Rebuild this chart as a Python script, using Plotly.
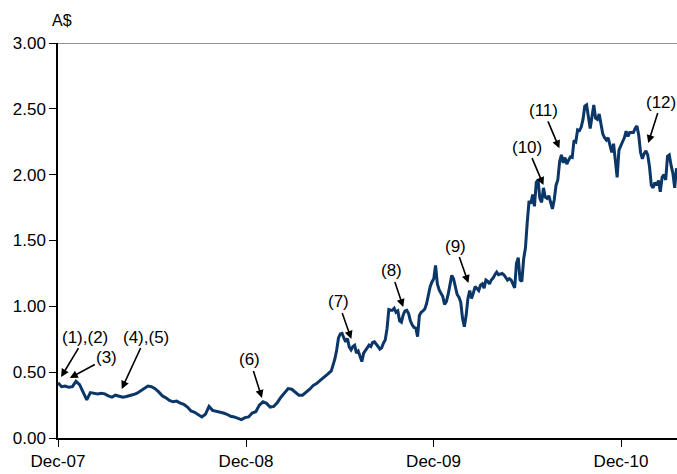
import pandas as pd
import plotly.graph_objects as go

# Closing prices (A$). Part A: weekly from the first week of Dec-2007,
# part B: twice-weekly from late May-2009 to the end of the chart.
start_date = "2007-12-01"
prices_weekly = [
    0.42, 0.39, 0.395, 0.385, 0.39, 0.43, 0.405, 0.35, 0.29, 0.345,
    0.34, 0.335, 0.34, 0.335, 0.32, 0.31, 0.325, 0.32, 0.31, 0.315,
    0.32, 0.33, 0.34, 0.36, 0.38, 0.395, 0.39, 0.375, 0.35, 0.32,
    0.305, 0.285, 0.275, 0.28, 0.265, 0.255, 0.235, 0.205, 0.195, 0.18,
    0.16, 0.18, 0.24, 0.21, 0.205, 0.20, 0.19, 0.18, 0.165, 0.16,
    0.15, 0.14, 0.155, 0.16, 0.19, 0.20, 0.25, 0.275, 0.263, 0.235,
    0.24, 0.27, 0.31, 0.345, 0.375, 0.37, 0.35, 0.325, 0.325, 0.345,
    0.37, 0.40, 0.415, 0.44, 0.46, 0.485, 0.51,
]
prices_twice_weekly = [
    0.60, 0.668, 0.76, 0.79, 0.795, 0.76, 0.73, 0.755, 0.69, 0.67,
    0.695, 0.705, 0.645, 0.66, 0.62, 0.58, 0.645, 0.665, 0.69, 0.705,
    0.695, 0.725, 0.73, 0.715, 0.695, 0.675, 0.685, 0.72, 0.745, 0.83,
    0.975, 0.97, 0.97, 0.985, 0.955, 0.965, 0.89, 0.88, 0.935, 0.965,
    0.97, 0.945, 0.89, 0.86, 0.84, 0.835, 0.77, 0.93, 0.955, 0.965,
    0.98, 1.02, 1.09, 1.15, 1.185, 1.21, 1.31, 1.17, 1.125, 1.095,
    1.075, 1.015, 1.035, 1.09, 1.15, 1.235, 1.21, 1.15, 1.09, 1.07,
    1.03, 0.91, 0.845, 0.93, 1.06, 1.12, 1.06, 1.10, 1.15, 1.135,
    1.12, 1.16, 1.17, 1.137, 1.20, 1.19, 1.17, 1.20, 1.215, 1.24,
    1.26, 1.24, 1.245, 1.25, 1.24, 1.215, 1.20, 1.21, 1.20, 1.17,
    1.14, 1.327, 1.37, 1.20, 1.19, 1.36, 1.445, 1.64, 1.80, 1.78,
    1.85, 1.76, 1.94, 1.96, 1.82, 1.79, 1.90, 1.83, 1.82, 1.84,
    1.78, 1.74, 1.81, 1.92, 1.96, 2.10, 2.15, 2.09, 2.13, 2.08,
    2.11, 2.135, 2.13, 2.26, 2.25, 2.34, 2.335, 2.36, 2.42, 2.52,
    2.53, 2.44, 2.35, 2.44, 2.53, 2.43, 2.42, 2.46, 2.37, 2.31,
    2.28, 2.263, 2.28, 2.22, 2.17, 2.235, 2.10, 1.98, 2.187, 2.225,
    2.25, 2.28, 2.33, 2.29, 2.32, 2.32, 2.32, 2.35, 2.37, 2.30,
    2.17, 2.12, 2.16, 2.18, 2.15, 2.06, 1.92, 1.90, 1.94, 1.92,
    1.955, 1.87, 1.98, 2.00, 1.96, 2.14, 2.15, 2.07, 2.01, 1.90,
    2.05,
]
dates_weekly = pd.date_range(start_date, periods=len(prices_weekly), freq="7D")
dates_twice = pd.date_range(dates_weekly[-1] + pd.Timedelta(days=7),
                            periods=len(prices_twice_weekly), freq="84h")
dates = list(dates_weekly) + list(dates_twice)
prices = prices_weekly + prices_twice_weekly

# Event annotations: label, date, price pointed at
event_labels = ["(1),(2)", "(3)", "(4),(5)", "(6)", "(7)", "(8)",
                "(9)", "(10)", "(11)", "(12)"]
event_dates = ["2007-12-07", "2007-12-24", "2008-04-03", "2009-01-01",
               "2009-06-24", "2009-10-03", "2010-02-07", "2010-07-03",
               "2010-08-03", "2011-01-23"]
event_prices = [0.463, 0.456, 0.372, 0.304, 0.752, 0.995, 1.177, 1.921,
                2.20, 2.24]
label_dx = [24, 37, 24, -12, -13, -12, -13, -16, -16, 13]
label_dy = [-40, -20, -52, -38, -37, -36, -37, -38, -38, -41]

tick_dates = ["2007-12-01", "2008-12-01", "2009-12-01", "2010-12-01"]
tick_text = ["Dec-07", "Dec-08", "Dec-09", "Dec-10"]
x_end = "2011-03-20"

FONT = "Liberation Sans, Arial, sans-serif"

fig = go.Figure()
fig.add_trace(go.Scatter(
    x=dates, y=prices, mode="lines",
    line=dict(color="#0b3768", width=3),
    showlegend=False, hoverinfo="skip",
))

for lab, d, p, dx, dy in zip(event_labels, event_dates, event_prices, label_dx, label_dy):
    fig.add_annotation(
        x=d, y=p, text=lab, showarrow=True,
        ax=dx, ay=dy, axref="pixel", ayref="pixel",
        arrowhead=2, arrowsize=1, arrowwidth=1.6, arrowcolor="black",
        font=dict(family=FONT, size=17, color="black"),
    )

fig.add_annotation(
    text="A$", xref="paper", yref="paper", x=0, y=1,
    xanchor="left", yanchor="bottom", xshift=-8, yshift=12,
    showarrow=False, font=dict(family=FONT, size=16, color="black"),
)

fig.add_shape(type="line", xref="paper", yref="y", x0=0, x1=1, y0=3, y1=3,
              line=dict(color="#707070", width=1.5))

fig.update_layout(
    width=677, height=474,
    margin=dict(l=58, r=0, t=43, b=36),
    plot_bgcolor="white", paper_bgcolor="white",
    font=dict(family=FONT, size=17, color="black"),
    xaxis=dict(
        type="date", range=[start_date, x_end],
        tickvals=tick_dates, ticktext=tick_text,
        showgrid=False, zeroline=False,
        showline=True, linecolor="black", linewidth=1.5,
        ticks="outside", ticklen=7, tickcolor="black", tickwidth=1,
        tickfont=dict(family=FONT, size=17, color="black"),
    ),
    yaxis=dict(
        range=[0, 3], tickmode="linear", tick0=0, dtick=0.5,
        tickformat=".2f",
        showgrid=False, zeroline=False,
        showline=True, linecolor="black", linewidth=1.5,
        ticks="outside", ticklen=7, tickcolor="black", tickwidth=1,
        tickfont=dict(family=FONT, size=17, color="black"),
    ),
)

fig.write_html("out.html")
